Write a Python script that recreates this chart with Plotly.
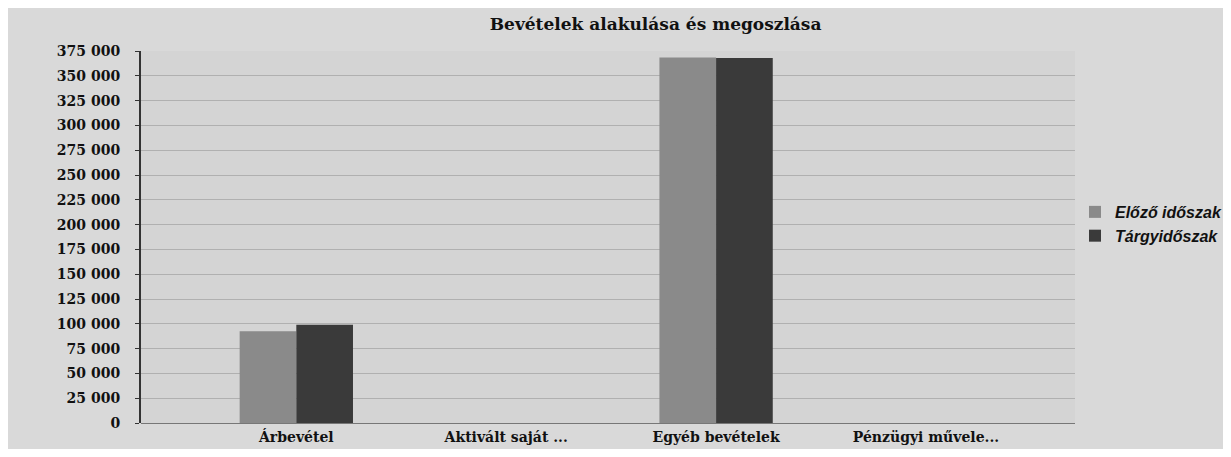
import plotly.graph_objects as go

categories = ["Árbevétel", "Aktivált saját ...", "Egyéb bevételek", "Pénzügyi művele..."]
elozo = [92500, 0, 368500, 0]
targy = [99000, 0, 368000, 0]
series_names = ["Előző időszak", "Tárgyidőszak"]
tick_vals = [0, 25000, 50000, 75000, 100000, 125000, 150000, 175000, 200000,
             225000, 250000, 275000, 300000, 325000, 350000, 375000]
tick_text = ["0", "25 000", "50 000", "75 000", "100 000", "125 000", "150 000", "175 000",
             "200 000", "225 000", "250 000", "275 000", "300 000", "325 000", "350 000", "375 000"]
title_text = "Bevételek alakulása és megoszlása"

serif = "DejaVu Serif, Liberation Serif, serif"

fig = go.Figure()
fig.add_trace(go.Bar(x=list(range(len(categories))), y=elozo, name=series_names[0],
                     marker=dict(color="#8a8a8a", line=dict(width=0))))
fig.add_trace(go.Bar(x=list(range(len(categories))), y=targy, name=series_names[1],
                     marker=dict(color="#3a3a3a", line=dict(width=0))))

fig.update_layout(
    width=1215, height=441,
    margin=dict(l=133, r=148, t=43, b=26, autoexpand=False),
    paper_bgcolor="#d9d9d9",
    plot_bgcolor="#d4d4d4",
    barmode="group",
    bargap=0.46,
    bargroupgap=0,
    title=dict(text=title_text, x=0.533, xanchor="center", y=0.963, yanchor="middle",
               font=dict(family=serif, size=17, color="#111111", weight="bold")),
    legend=dict(x=1.0, xanchor="left", y=0.535, yanchor="middle",
                font=dict(family="Liberation Sans, Arial, sans-serif", size=16,
                          color="#111111", style="italic", weight="bold"),
                bgcolor="rgba(0,0,0,0)", tracegroupgap=4, itemwidth=30),
    showlegend=True,
)
fig.update_xaxes(
    tickmode="array", tickvals=list(range(len(categories))), ticktext=categories,
    range=[-0.74, 3.71], showgrid=False, showline=False, zeroline=False,
    tickfont=dict(family=serif, size=14, color="#111111", weight="bold"),
    ticks="", ticklabelstandoff=4, automargin=False,
)
fig.update_yaxes(
    range=[0, 375000], tickmode="array", tickvals=tick_vals, ticktext=tick_text,
    showgrid=True, gridcolor="#b0b0b0", gridwidth=1,
    showline=True, linecolor="#333333", linewidth=2,
    zeroline=True, zerolinecolor="#777777", zerolinewidth=1,
    ticks="outside", ticklen=4, tickcolor="#333333", ticklabelstandoff=12,
    tickfont=dict(family=serif, size=14, color="#111111", weight="bold"),
    automargin=False,
)

fig.write_html("out.html")
